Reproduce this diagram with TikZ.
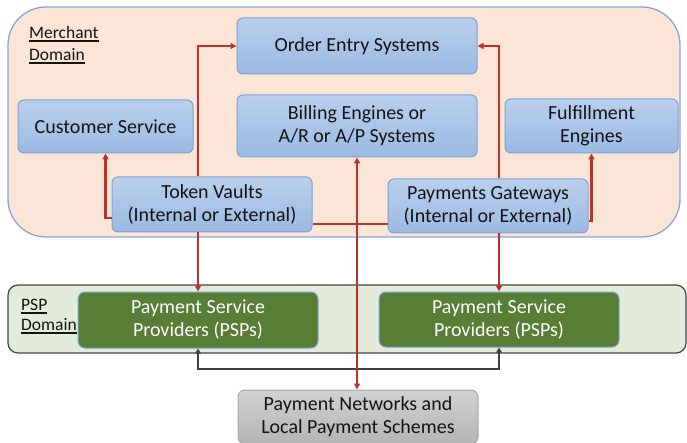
\documentclass[tikz,border=0pt]{standalone}
\usepackage{fontspec}
\setmainfont{Carlito}
\usetikzlibrary{arrows.meta,calc}
\definecolor{peach}{HTML}{FBE5D6}
\definecolor{domblue}{HTML}{86A6DA}
\definecolor{boxtop}{HTML}{B9CFEC}
\definecolor{boxbot}{HTML}{9BBAE3}
\definecolor{boxline}{HTML}{7EA2D6}
\definecolor{pspfill}{HTML}{E3EBDA}
\definecolor{pspline}{HTML}{454545}
\definecolor{pspgreen}{HTML}{587D34}
\definecolor{netgray}{HTML}{C9C9C9}
\definecolor{netline}{HTML}{A8A8A8}
\definecolor{redline}{HTML}{C0302A}
\definecolor{darkline}{HTML}{404040}
\definecolor{txt}{HTML}{141414}
\newcommand{\myul}[1]{\setbox0\hbox{#1}\rlap{\rule[-3.2pt]{\wd0}{1.8pt}}\box0}
\tikzset{
  bluebox/.style={draw=boxline, line width=1pt, rounded corners=6pt, top color=boxtop, bottom color=boxbot, text=txt, align=center, font=\fontsize{20}{23}\selectfont, inner sep=0pt},
  greenbox/.style={draw=boxline, line width=1pt, rounded corners=7pt, fill=pspgreen, text=white, align=center, font=\fontsize{20}{23}\selectfont, inner sep=0pt},
  graybox/.style={draw=netline, line width=1pt, rounded corners=7pt, top color=netgray!85!white, bottom color=netgray!90!black, text=txt, align=center, font=\fontsize{20}{23}\selectfont, inner sep=0pt},
  domlabel/.style={anchor=north west, align=left, inner sep=0pt, text=txt},
  redarrow/.style={draw=redline, line width=2.2pt, -{Triangle[length=6pt,width=6pt]}},
  redboth/.style={draw=redline, line width=2.2pt, {Triangle[length=6pt,width=6pt]}-{Triangle[length=6pt,width=6pt]}},
  redplain/.style={draw=redline, line width=2.2pt},
  darkboth/.style={draw=darkline, line width=2pt, {Triangle[length=5pt,width=5.5pt]}-{Triangle[length=5pt,width=5.5pt]}},
}
\begin{document}
\begin{tikzpicture}[x=1pt,y=-1pt]
\useasboundingbox (0,0) rectangle (687,443);
% domains
\draw[fill=peach, draw=domblue, line width=1.3pt, rounded corners=38pt] (8,7) rectangle (680,237);
\draw[fill=pspfill, draw=pspline, line width=1.2pt, rounded corners=10pt] (8,285) rectangle (686,353);
\node[domlabel, font=\fontsize{17.5}{22}\selectfont] (mlabel) at (29,26) {\myul{Merchant}\\\myul{Domain}};
\node[domlabel, font=\fontsize{17.5}{20}\selectfont] (plabel) at (21,299) {\myul{PSP}\\\myul{Domain}};
% nodes
\node[bluebox, minimum width=240pt, minimum height=56pt] (OE) at (357,46) {Order Entry Systems};
\node[bluebox, minimum width=175pt, minimum height=53pt] (CS) at (105.5,126.5) {Customer Service};
\node[bluebox, minimum width=240pt, minimum height=62pt] (BE) at (357,126) {Billing Engines or\\A/R or A/P Systems};
\node[bluebox, minimum width=173pt, minimum height=54pt] (FE) at (591.5,126) {Fulfillment\\Engines};
\node[bluebox, minimum width=200pt, minimum height=55pt] (TV) at (212,204.5) {Token Vaults\\(Internal or External)};
\node[bluebox, minimum width=200pt, minimum height=54pt] (PG) at (488,206) {Payments Gateways\\(Internal or External)};
\node[greenbox, minimum width=240pt, minimum height=56pt] (P1) at (198,320) {Payment Service\\Providers (PSPs)};
\node[greenbox, minimum width=240pt, minimum height=55pt] (P2) at (499,319.5) {Payment Service\\Providers (PSPs)};
\node[graybox, minimum width=240pt, minimum height=54pt] (PN) at (358,417) {Payment Networks and\\Local Payment Schemes};
% connectors
\coordinate (tvr) at ($(TV.east)+(0,19.5)$);
\coordinate (tvl) at ($(TV.west)+(0,13.5)$);
\coordinate (pgr) at ($(PG.east)+(0,15)$);
\draw[darkboth] (P1.south) -- ++(0,20) -| (P2.south);
\draw[redarrow] (tvl) -| (CS.south);
\draw[redarrow] (P1.north |- TV.north) |- (OE.west);
\draw[redplain] (tvr) -- (tvr -| PG.west);
\draw[redarrow] (P2.north |- PG.north) |- (OE.east);
\draw[redarrow] (pgr) -| (FE.south);
\draw[redarrow] (P1.north |- TV.south) -- (P1.north);
\draw[redarrow] (P2.north |- PG.south) -- (P2.north);
\draw[redboth] (BE.south) -- (BE.south |- PN.north);
\end{tikzpicture}
\end{document}
